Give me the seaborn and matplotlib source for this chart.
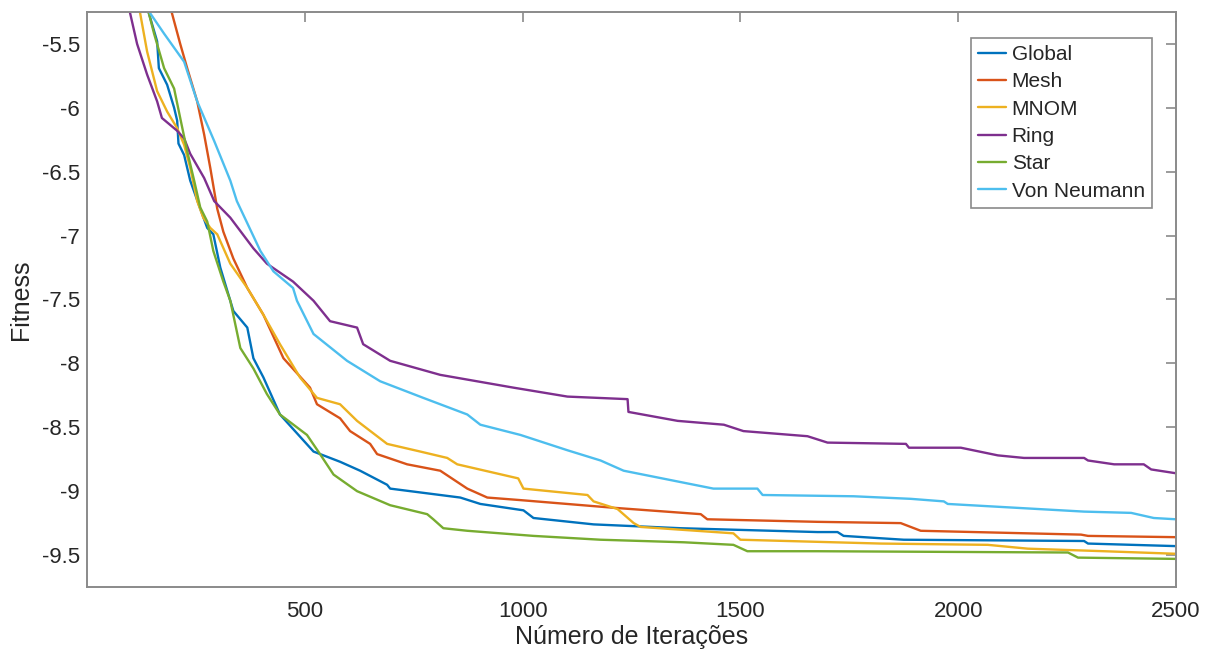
import matplotlib
matplotlib.use('Agg')

import matplotlib.pyplot as plt
import seaborn as sns
import pandas as pd
from matplotlib.ticker import FuncFormatter

# Best fitness per iteration
TOPOLOGIES = ['Global', 'Mesh', 'MNOM', 'Ring', 'Star', 'Von Neumann']

global_x = [125, 142, 161, 165, 184, 200, 207, 210, 223, 237, 260, 276, 290, 306, 336, 368, 382, 405,
            443, 520, 581, 627, 689, 696, 857, 903, 1002, 1025, 1163, 1363, 1677, 1723, 1737, 1875,
            2289, 2298, 2500]
global_y = [-5.0, -5.26, -5.48, -5.69, -5.82, -6.00, -6.10, -6.28, -6.37, -6.57, -6.79, -6.94, -6.99,
            -7.25, -7.59, -7.72, -7.96, -8.11, -8.40, -8.69, -8.77, -8.84, -8.95, -8.98, -9.05, -9.10,
            -9.15, -9.21, -9.26, -9.29, -9.32, -9.32, -9.35, -9.38, -9.39, -9.41, -9.43]

mesh_x = [175, 195, 214, 230, 253, 269, 283, 299, 313, 336, 368, 405, 451, 512, 528, 581, 604, 650, 666,
          735, 811, 873, 919, 995, 1209, 1409, 1424, 1677, 1868, 1914, 2282, 2298, 2500]
mesh_y = [-5.0, -5.26, -5.50, -5.69, -5.95, -6.21, -6.47, -6.79, -6.97, -7.18, -7.41, -7.62, -7.96,
          -8.19, -8.32, -8.43, -8.53, -8.63, -8.71, -8.79, -8.84, -8.98, -9.05, -9.07, -9.13, -9.18,
          -9.22, -9.24, -9.25, -9.31, -9.34, -9.35, -9.36]

mnom_x = [110, 122, 138, 161, 184, 207, 223, 237, 253, 267, 283, 299, 329, 368, 405, 443, 489, 528, 581,
          620, 689, 765, 827, 850, 990, 1002, 1149, 1163, 1218, 1255, 1271, 1484, 1500, 1822, 2068,
          2160, 2335, 2500]
mnom_y = [-5.0, -5.26, -5.56, -5.87, -6.03, -6.16, -6.29, -6.47, -6.73, -6.86, -6.94, -6.99, -7.22,
          -7.41, -7.62, -7.85, -8.11, -8.27, -8.32, -8.45, -8.63, -8.69, -8.74, -8.79, -8.90, -8.98,
          -9.03, -9.08, -9.14, -9.25, -9.28, -9.33, -9.38, -9.41, -9.42, -9.45, -9.47, -9.49]

ring_x = [80, 99, 115, 138, 161, 172, 207, 223, 237, 269, 292, 329, 382, 413, 473, 520, 558, 620, 634,
          696, 811, 979, 1103, 1241, 1243, 1356, 1462, 1507, 1654, 1700, 1880, 1887, 2006, 2091, 2151,
          2289, 2298, 2358, 2426, 2443, 2500]
ring_y = [-5.0, -5.26, -5.50, -5.74, -5.95, -6.08, -6.18, -6.24, -6.36, -6.55, -6.73, -6.86, -7.10,
          -7.22, -7.36, -7.51, -7.67, -7.72, -7.85, -7.98, -8.09, -8.19, -8.26, -8.28, -8.38, -8.45,
          -8.48, -8.53, -8.57, -8.62, -8.63, -8.66, -8.66, -8.72, -8.74, -8.74, -8.76, -8.79, -8.79,
          -8.83, -8.86]

star_x = [125, 142, 154, 177, 200, 214, 230, 246, 260, 276, 290, 313, 329, 352, 382, 413, 443, 505, 535,
          566, 620, 696, 781, 795, 818, 873, 1025, 1179, 1370, 1484, 1516, 1677, 2252, 2275, 2500]
star_y = [-5.0, -5.26, -5.42, -5.69, -5.85, -6.08, -6.34, -6.57, -6.78, -6.89, -7.12, -7.36, -7.51,
          -7.88, -8.04, -8.24, -8.40, -8.56, -8.71, -8.87, -9.00, -9.11, -9.18, -9.22, -9.29, -9.31,
          -9.35, -9.38, -9.40, -9.42, -9.47, -9.47, -9.48, -9.52, -9.53]

vonneumann_x = [110, 145, 177, 223, 253, 292, 329, 344, 398, 428, 473, 482, 520, 597, 673, 772, 873, 903,
                995, 1103, 1179, 1232, 1438, 1539, 1551, 1760, 1891, 1967, 1976, 2289, 2397, 2449, 2500]
vonneumann_y = [-5.0, -5.26, -5.42, -5.64, -5.95, -6.26, -6.57, -6.73, -7.12, -7.28, -7.41, -7.51,
                -7.77, -7.98, -8.14, -8.27, -8.40, -8.48, -8.56, -8.68, -8.76, -8.84, -8.98, -8.98,
                -9.03, -9.04, -9.06, -9.08, -9.10, -9.16, -9.17, -9.21, -9.22]

x_ticks = [500, 1000, 1500, 2000, 2500]
y_ticks = [-9.5, -9.0, -8.5, -8.0, -7.5, -7.0, -6.5, -6.0, -5.5]

# MATLAB default line colours
COLORS = ['#0072BD', '#D95319', '#EDB120', '#7E2F8E', '#77AC30', '#4DBEEE']

series = [(global_x, global_y), (mesh_x, mesh_y), (mnom_x, mnom_y),
          (ring_x, ring_y), (star_x, star_y), (vonneumann_x, vonneumann_y)]
frames = [pd.DataFrame({'iter': xs, 'fitness': ys, 'topology': name})
          for name, (xs, ys) in zip(TOPOLOGIES, series)]
df = pd.concat(frames, ignore_index=True)

sns.set_theme(style='white')
plt.rcParams['font.family'] = ['Liberation Sans', 'DejaVu Sans']
plt.rcParams['axes.unicode_minus'] = False

TEXT = '#262626'
EDGE = '#8a8a8a'

fig = plt.figure(figsize=(12.15, 6.55), dpi=100)
ax = fig.add_axes([0.0716, 0.1038, 0.8963, 0.878])

sns.lineplot(data=df, x='iter', y='fitness', hue='topology', hue_order=TOPOLOGIES,
             palette=COLORS, estimator=None, sort=True, linewidth=1.7, ax=ax)

ax.set_xlim(0, 2500)
ax.set_ylim(-9.75, -5.25)
ax.set_xticks(x_ticks)
ax.set_yticks(y_ticks)
ax.yaxis.set_major_formatter(FuncFormatter(lambda v, p: f'{v:g}'))

ax.set_xlabel('Número de Iterações', fontsize=18, color=TEXT, labelpad=2)
ax.set_ylabel('Fitness', fontsize=18, color=TEXT, labelpad=6)
ax.tick_params(axis='both', which='major', direction='in', length=7, width=1.2,
               colors=EDGE, labelcolor=TEXT, labelsize=16, top=True, right=True)
ax.tick_params(axis='x', pad=10)
ax.tick_params(axis='y', pad=5)
for side in ['top', 'bottom', 'left', 'right']:
    ax.spines[side].set_visible(True)
    ax.spines[side].set_color(EDGE)
    ax.spines[side].set_linewidth(1.4)

leg = ax.legend(loc='upper right', bbox_to_anchor=(0.978, 0.955), borderaxespad=0,
                fontsize=15, frameon=True, fancybox=False, framealpha=1,
                handlelength=1.35, handletextpad=0.25, labelspacing=0.40,
                borderpad=0.35, title=None)
leg.get_frame().set_edgecolor(EDGE)
leg.get_frame().set_linewidth(1.2)
for t in leg.get_texts():
    t.set_color(TEXT)

fig.savefig('out.png', dpi=100, facecolor='white')
plt.close(fig)
